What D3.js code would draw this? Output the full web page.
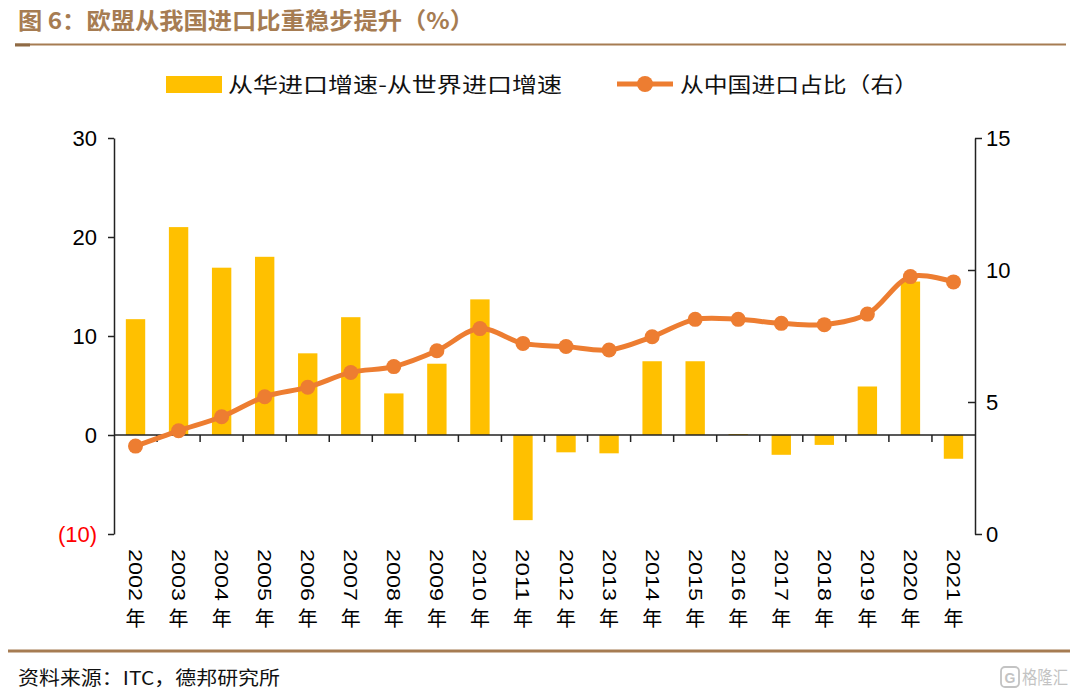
<!DOCTYPE html>
<html><head><meta charset="utf-8">
<script src="https://cdn.jsdelivr.net/npm/d3@7"></script>
<style>body{margin:0;background:#fff}svg{display:block}</style>
</head><body>
<svg id="c" width="1080" height="695"></svg>
<script>
const years = ["2002","2003","2004","2005","2006","2007","2008","2009","2010","2011","2012","2013","2014","2015","2016","2017","2018","2019","2020","2021"];
const gapValues = [11.7,21.0,16.9,18.0,8.25,11.9,4.2,7.2,13.7,-8.6,-1.75,-1.85,7.45,7.45,0.1,-2.0,-1.0,4.9,15.5,-2.4];
const shareValues = [3.33,3.91,4.44,5.2,5.56,6.12,6.34,6.94,7.78,7.22,7.1,6.97,7.47,8.13,8.13,7.98,7.93,8.33,9.75,9.55];
const leftTicks = [30,20,10,0,-10];
const rightTicks = [15,10,5,0];
const barName = "从华进口增速-从世界进口增速";
const lineName = "从中国进口占比（右）";
const title = "图 6：欧盟从我国进口比重稳步提升（%）";
const source = "资料来源：ITC，德邦研究所";

const svg = d3.select("#c");
const cjk = "'Noto Sans CJK SC','Noto Sans',sans-serif";
const lat = "'Liberation Sans',Arial,sans-serif";
const brown = "#A67C52";
const L = 114, R = 975, T = 138, B = 534;

const x = d3.scaleBand().domain(years).range([L, R]).paddingInner(0.55).paddingOuter(0.275);
const yL = d3.scaleLinear().domain([-10, 30]).range([B, T]);
const yR = d3.scaleLinear().domain([0, 15]).range([B, T]);

// title
svg.append("text").attr("x", 18).attr("y", 29).attr("fill", brown)
  .attr("font-family", cjk).attr("font-weight", "bold").attr("font-size", 23)
  .attr("textLength", 456).attr("lengthAdjust", "spacingAndGlyphs")
  .text(title);
svg.append("line").attr("x1", 15).attr("x2", 1066).attr("y1", 44.5).attr("y2", 44.5)
  .attr("stroke", brown).attr("stroke-width", 2);
svg.append("line").attr("x1", 15).attr("x2", 30).attr("y1", 45).attr("y2", 45)
  .attr("stroke", "#8f6a45").attr("stroke-width", 3);

// legend
svg.append("rect").attr("x", 166).attr("y", 76).attr("width", 56).attr("height", 17).attr("fill", "#FFC000");
svg.append("text").attr("x", 228).attr("y", 92).attr("font-family", cjk).attr("font-size", 21)
  .attr("textLength", 334).attr("lengthAdjust", "spacingAndGlyphs").attr("fill", "#111").text(barName);
svg.append("line").attr("x1", 617).attr("x2", 673).attr("y1", 84).attr("y2", 84)
  .attr("stroke", "#ED7D31").attr("stroke-width", 5);
svg.append("circle").attr("cx", 645).attr("cy", 84).attr("r", 8).attr("fill", "#ED7D31");
svg.append("text").attr("x", 680).attr("y", 92).attr("font-family", cjk).attr("font-size", 21)
  .attr("textLength", 238).attr("lengthAdjust", "spacingAndGlyphs").attr("fill", "#111").text(lineName);

// bars
svg.append("g").selectAll("rect").data(years).join("rect")
  .attr("x", d => x(d))
  .attr("width", x.bandwidth())
  .attr("y", (d, i) => yL(Math.max(0, gapValues[i])))
  .attr("height", (d, i) => Math.abs(yL(gapValues[i]) - yL(0)))
  .attr("fill", "#FFC000");

// left axis
const axL = svg.append("g").attr("transform", `translate(${L},0)`)
  .call(d3.axisLeft(yL).tickValues(leftTicks).tickSize(6).tickSizeOuter(0)
    .tickFormat(d => d < 0 ? `(${-d})` : d));
axL.select(".domain").attr("stroke", "#222").attr("stroke-width", 1.5);
axL.selectAll(".tick line").attr("stroke", "#222").attr("stroke-width", 1.5);
axL.selectAll(".tick text").attr("font-family", lat).attr("font-size", 22).attr("x", -17)
  .attr("fill", d => d < 0 ? "#FF0000" : "#000");

// right axis
const axR = svg.append("g").attr("transform", `translate(${R},0)`)
  .call(d3.axisRight(yR).tickValues(rightTicks).tickSize(0).tickSizeOuter(0));
axR.select(".domain").attr("stroke", "#222").attr("stroke-width", 1.5);
axR.selectAll(".tick line").remove();
axR.selectAll(".tick").append("line")
  .attr("x1", d => (d === 15 || d === 0) ? 7 : -7).attr("x2", 0)
  .attr("stroke", "#222").attr("stroke-width", 1.5);
axR.selectAll(".tick text").attr("font-family", lat).attr("font-size", 22).attr("x", 11).attr("fill", "#000");

// x axis at zero
const axX = svg.append("g").attr("transform", `translate(0,${yL(0)})`);
axX.append("line").attr("x1", L).attr("x2", R).attr("stroke", "#222").attr("stroke-width", 1.5);
axX.selectAll("line.t").data(years.slice(1)).join("line").attr("class", "t")
  .attr("x1", d => x(d) - x.step() * x.paddingInner() / 2)
  .attr("x2", d => x(d) - x.step() * x.paddingInner() / 2)
  .attr("y1", 0).attr("y2", 7).attr("stroke", "#222").attr("stroke-width", 1.5);

// x labels
const xl = svg.append("g");
years.forEach(yv => {
  const cx = x(yv) + x.bandwidth() / 2;
  xl.append("text").attr("transform", `translate(${cx},549) rotate(90)`)
    .attr("dominant-baseline", "central").attr("font-family", lat).attr("font-size", 19)
    .attr("textLength", 52).attr("lengthAdjust", "spacingAndGlyphs").attr("fill", "#000").text(yv);
  xl.append("text").attr("x", cx).attr("y", 626).attr("text-anchor", "middle")
    .attr("font-family", cjk).attr("font-size", 20).attr("fill", "#000").text("年");
});

// line
const line = d3.line()
  .x((d, i) => x(years[i]) + x.bandwidth() / 2)
  .y(d => yR(d))
  .curve(d3.curveCatmullRom.alpha(0.5));
svg.append("path").datum(shareValues).attr("d", line).attr("fill", "none")
  .attr("stroke", "#ED7D31").attr("stroke-width", 5).attr("stroke-linejoin", "round");
svg.append("g").selectAll("circle").data(shareValues).join("circle")
  .attr("cx", (d, i) => x(years[i]) + x.bandwidth() / 2)
  .attr("cy", d => yR(d)).attr("r", 7.5).attr("fill", "#ED7D31");

// footer
svg.append("line").attr("x1", 8).attr("x2", 1070).attr("y1", 651).attr("y2", 651)
  .attr("stroke", brown).attr("stroke-width", 3);
svg.append("text").attr("x", 18).attr("y", 685).attr("font-family", cjk).attr("font-size", 19)
  .attr("textLength", 262).attr("lengthAdjust", "spacingAndGlyphs")
  .attr("fill", "#111").text(source);
// watermark
const wm = svg.append("g").attr("opacity", 0.5);
wm.append("rect").attr("x", 1001).attr("y", 667).attr("width", 18).attr("height", 20).attr("rx", 4)
  .attr("fill", "none").attr("stroke", "#888").attr("stroke-width", 1.8);
wm.append("text").attr("x", 1010).attr("y", 683).attr("text-anchor", "middle").attr("font-family", lat)
  .attr("font-size", 14).attr("font-weight", "bold").attr("fill", "#888").text("G");
wm.append("text").attr("x", 1022).attr("y", 684).attr("font-family", cjk).attr("font-size", 18)
  .attr("textLength", 46).attr("lengthAdjust", "spacingAndGlyphs")
  .attr("fill", "#888").text("格隆汇");
</script>
</body></html>
